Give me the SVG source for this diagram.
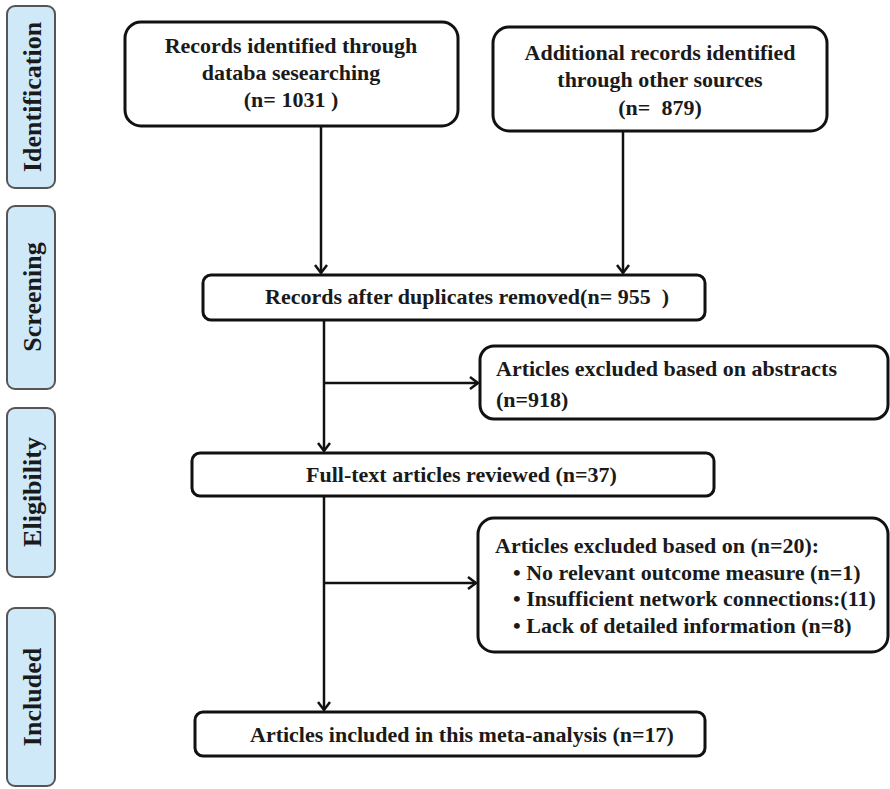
<svg xmlns="http://www.w3.org/2000/svg" width="890" height="789" viewBox="0 0 890 789">
<style>
.side{fill:#cfe9f9;stroke:#555;stroke-width:2}
.box{fill:#fff;stroke:#111;stroke-width:3}
.t{font-family:"Liberation Serif","Times New Roman",serif;font-weight:bold;font-size:22px;fill:#1a1a1a}
.st{font-family:"Liberation Serif","Times New Roman",serif;font-weight:bold;font-size:26px;fill:#1a1a1a}
.ln{stroke:#111;stroke-width:2.5;fill:none}
</style>
<defs>
<marker id="arr" markerWidth="14" markerHeight="14" refX="10" refY="7" orient="auto" markerUnits="userSpaceOnUse">
<path d="M2,1 L10,7 L2,13" fill="none" stroke="#111" stroke-width="2.5"/>
</marker>
</defs>
<rect width="890" height="789" fill="#fff"/>
<g id="stage-identification"><rect class="side" x="7" y="6" width="48" height="182" rx="8"/><text class="st" transform="translate(41,97) rotate(-90)" text-anchor="middle">Identification</text></g>
<g id="stage-screening"><rect class="side" x="7" y="206" width="48" height="183" rx="8"/><text class="st" transform="translate(41,297) rotate(-90)" text-anchor="middle">Screening</text></g>
<g id="stage-eligibility"><rect class="side" x="7" y="408" width="48" height="169" rx="8"/><text class="st" transform="translate(41,492) rotate(-90)" text-anchor="middle">Eligibility</text></g>
<g id="stage-included"><rect class="side" x="7" y="608" width="48" height="178" rx="8"/><text class="st" transform="translate(41,697) rotate(-90)" text-anchor="middle">Included</text></g>
<g id="connectors">
<line class="ln" x1="321" y1="127" x2="321" y2="273" marker-end="url(#arr)"/>
<line class="ln" x1="623" y1="132" x2="623" y2="273" marker-end="url(#arr)"/>
<line class="ln" x1="324" y1="320" x2="324" y2="451" marker-end="url(#arr)"/>
<line class="ln" x1="324" y1="383" x2="478" y2="383" marker-end="url(#arr)"/>
<line class="ln" x1="324" y1="497" x2="324" y2="710" marker-end="url(#arr)"/>
<line class="ln" x1="324" y1="583" x2="476" y2="583" marker-end="url(#arr)"/>
</g>
<g id="n1"><rect class="box" x="125" y="22" width="333" height="104" rx="16"/>
<text class="t" text-anchor="middle"><tspan x="291" y="53">Records identified through</tspan><tspan x="291" y="80">databa sesearching</tspan><tspan x="291" y="107">(n= 1031 )</tspan></text></g>
<g id="n2"><rect class="box" x="493" y="27" width="334" height="104" rx="16"/>
<text class="t" text-anchor="middle"><tspan x="660" y="60">Additional records identified</tspan><tspan x="660" y="87">through other sources</tspan><tspan x="660" y="115" xml:space="preserve">(n=  879)</tspan></text></g>
<g id="n3"><rect class="box" x="203" y="275" width="502" height="45" rx="8"/>
<text class="t" x="265" y="304" xml:space="preserve">Records after duplicates removed(n= 955  )</text></g>
<g id="n4"><rect class="box" x="480" y="346" width="408" height="73" rx="14"/>
<text class="t"><tspan x="496" y="376">Articles excluded based on abstracts</tspan><tspan x="496" y="407">(n=918)</tspan></text></g>
<g id="n5"><rect class="box" x="192" y="453" width="522" height="43" rx="8"/>
<text class="t" x="306" y="482">Full-text articles reviewed (n=37)</text></g>
<g id="n6"><rect class="box" x="478" y="518" width="410" height="134" rx="16"/>
<text class="t"><tspan x="495" y="553">Articles excluded based on (n=20):</tspan><tspan x="513" y="580">• No relevant outcome measure (n=1)</tspan><tspan x="513" y="606">• Insufficient network connections:(11)</tspan><tspan x="513" y="633">• Lack of detailed information (n=8)</tspan></text></g>
<g id="n7"><rect class="box" x="195" y="712" width="510" height="44" rx="8"/>
<text class="t" x="250" y="742">Articles included in this meta-analysis (n=17)</text></g>
</svg>
